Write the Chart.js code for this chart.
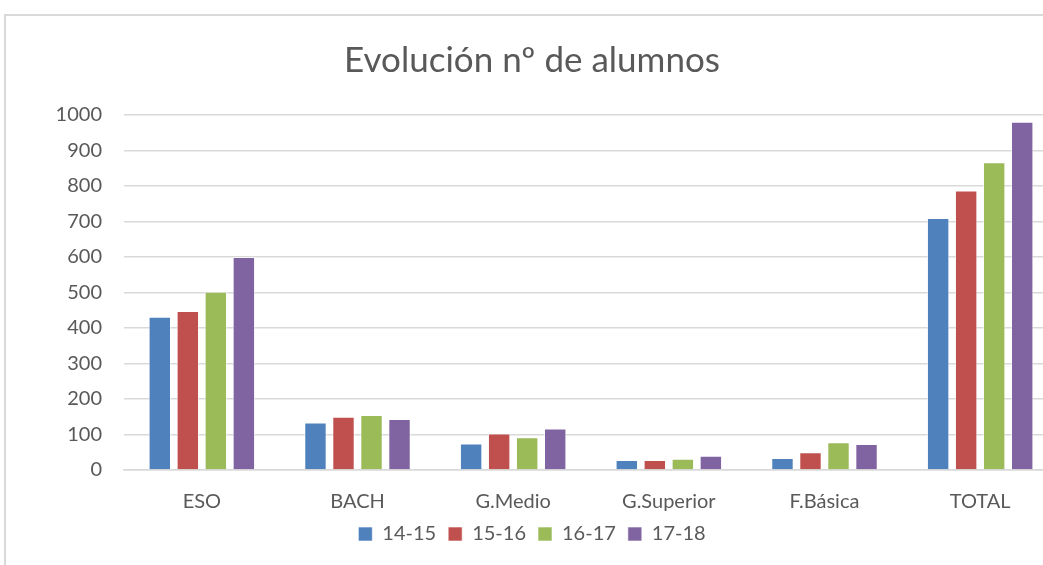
<!DOCTYPE html>
<html>
<head>
<meta charset="utf-8">
<script src="https://cdn.jsdelivr.net/npm/chart.js@4"></script>
<style>
  html, body { margin: 0; padding: 0; background: #fff; overflow: hidden; }
  #marco {
    position: absolute; left: 4px; top: 14px;
    width: 1080px; height: 560px;
    border-left: 2px solid #d9d9d9; border-top: 2px solid #d9d9d9;
  }
  #grafico { position: absolute; left: 0; top: 0; }
</style>
</head>
<body>
<div id="marco"><canvas id="grafico" width="1052" height="555"></canvas></div>
<script>
const categorias = ['ESO', 'BACH', 'G.Medio', 'G.Superior', 'F.Básica', 'TOTAL'];
const cursos = ['14-15', '15-16', '16-17', '17-18'];
const valores1415 = [432, 134, 75, 28, 34, 710];
const valores1516 = [448, 150, 103, 28, 50, 787];
const valores1617 = [502, 155, 92, 32, 78, 867];
const valores1718 = [600, 144, 117, 40, 73, 981];
const colores = ['#4F81BD', '#C0504D', '#9BBB59', '#8064A2'];

const series = [valores1415, valores1516, valores1617, valores1718];
const fuente = 'Lato, "Open Sans", sans-serif';

const ctx = document.getElementById('grafico').getContext('2d');
new Chart(ctx, {
  type: 'bar',
  data: {
    labels: categorias,
    datasets: series.map((datos, i) => ({
      label: cursos[i],
      data: datos,
      backgroundColor: colores[i],
      borderColor: 'rgba(255,255,255,0.6)',
      borderWidth: 1,
      categoryPercentage: 0.72,
      barPercentage: 0.8
    }))
  },
  options: {
    responsive: false,
    animation: false,
    layout: { padding: { left: 0, right: 0, top: 24, bottom: 17 } },
    plugins: {
      title: {
        display: true,
        text: 'Evolución nº de alumnos',
        color: '#595959',
        font: { family: fuente, size: 35, weight: 'normal' },
        padding: { top: 0, bottom: 33 }
      },
      legend: {
        position: 'bottom',
        labels: {
          color: '#595959',
          font: { family: fuente, size: 20 },
          boxWidth: 14,
          boxHeight: 14,
          padding: 12
        }
      },
      tooltip: { enabled: false }
    },
    scales: {
      x: {
        afterFit: escala => { escala.height = 42; },
        grid: { display: false, drawTicks: false },
        border: { color: '#d9d9d9', width: 1.5 },
        ticks: { color: '#595959', font: { family: fuente, size: 20 }, padding: 20 }
      },
      y: {
        min: 0,
        max: 1000,
        afterFit: escala => { escala.width = 118; },
        ticks: {
          stepSize: 100,
          color: '#595959',
          font: { family: fuente, size: 20 },
          padding: 22,
          callback: valor => String(valor)
        },
        grid: { color: '#d9d9d9', lineWidth: 1.5, drawTicks: false },
        border: { display: false }
      }
    }
  }
});
</script>
</body>
</html>
